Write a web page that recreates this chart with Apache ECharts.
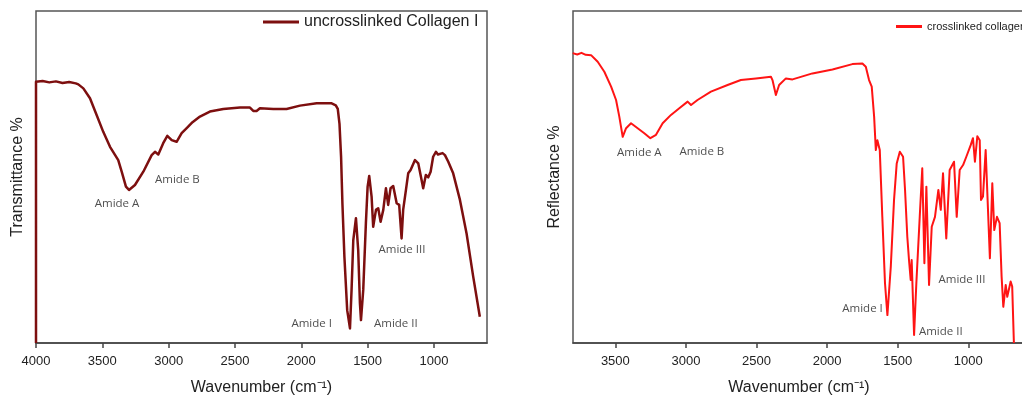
<!DOCTYPE html>
<html>
<head>
<meta charset="utf-8">
<script src="https://cdn.jsdelivr.net/npm/echarts@6/dist/echarts.min.js"></script>
<style>
  html, body { margin: 0; padding: 0; background: #fff; }
  #chart { width: 1022px; height: 401px; }
</style>
</head>
<body>
<div id="chart"></div>
<script>
// left panel: uncrosslinked collagen (wavenumber, transmittance)
var leftWn = [4000, 4000, 3950, 3900, 3850, 3800, 3750, 3700, 3681, 3643, 3593, 3543, 3493, 3442, 3380, 3354, 3322, 3299, 3254, 3191, 3128, 3103, 3078, 3041, 3010, 2977, 2940, 2902, 2864, 2820, 2764, 2689, 2588, 2462, 2387, 2362, 2337, 2312, 2211, 2111, 2010, 1884, 1771, 1740, 1725, 1712, 1700, 1690, 1675, 1654, 1633, 1621, 1608, 1588, 1571, 1558, 1550, 1533, 1513, 1500, 1488, 1470, 1458, 1437, 1420, 1402, 1382, 1362, 1345, 1327, 1307, 1281, 1262, 1244, 1232, 1211, 1194, 1176, 1143, 1118, 1098, 1081, 1061, 1043, 1025, 1006, 985, 970, 955, 935, 917, 892, 855, 804, 754, 704, 654];
var leftVal = [0, 78.7, 78.9, 78.5, 78.8, 78.3, 78.6, 78.2, 77.9, 76.7, 73.7, 68.7, 63.6, 59.1, 55.1, 51.6, 47.1, 46.1, 47.6, 51.6, 56.6, 57.6, 56.8, 60.2, 62.4, 61.1, 60.6, 63.2, 64.7, 66.5, 68.2, 69.7, 70.5, 70.9, 70.9, 69.9, 69.9, 70.7, 70.5, 70.5, 71.5, 72.2, 72.2, 71.6, 70.5, 66, 56, 42, 26, 9.9, 4.4, 16, 31, 37.6, 28, 12, 6.9, 16, 36.1, 47.1, 50.3, 44.1, 35, 40.1, 40.6, 36.5, 40.1, 46.6, 41.6, 46.6, 47.3, 42.1, 41.6, 31.5, 40.1, 46.1, 51.1, 52.1, 55.1, 54.1, 50.1, 46.6, 50.6, 49.9, 51.6, 56.1, 57.6, 56.8, 56.6, 57.2, 56.6, 54.6, 51.1, 43.1, 33, 20, 7.9];

// right panel: crosslinked collagen (wavenumber, reflectance)
var rightWn = [3802, 3770, 3740, 3710, 3672, 3625, 3578, 3530, 3495, 3472, 3448, 3424, 3389, 3342, 3295, 3252, 3212, 3165, 3106, 3047, 2988, 2964, 2918, 2823, 2705, 2611, 2504, 2398, 2387, 2363, 2340, 2292, 2245, 2104, 1962, 1821, 1750, 1726, 1703, 1684, 1667, 1655, 1644, 1627, 1609, 1590, 1573, 1549, 1526, 1507, 1485, 1462, 1448, 1432, 1420, 1408, 1401, 1384, 1368, 1344, 1326, 1311, 1297, 1278, 1259, 1236, 1212, 1195, 1179, 1156, 1132, 1101, 1082, 1061, 1037, 1014, 983, 967, 953, 936, 919, 910, 896, 877, 863, 847, 830, 816, 797, 778, 764, 752, 735, 724, 700, 689, 677];
var rightVal = [87.3, 86.9, 87.4, 86.8, 86.7, 84.7, 81.7, 77.2, 73.2, 68.2, 62.1, 64.7, 66.2, 64.7, 63.2, 61.7, 62.7, 66.2, 68.7, 70.7, 72.7, 71.7, 73.2, 75.7, 77.7, 79.2, 79.7, 80.2, 79.2, 74.7, 77.7, 79.7, 79.4, 81.2, 82.4, 84, 84.2, 83.2, 79.2, 77.2, 68.2, 58.1, 61.1, 58.1, 38, 18, 8.4, 23, 43.1, 54.1, 57.6, 56.1, 46.1, 32, 25, 19, 25, 2.4, 18, 38, 52.6, 24, 47.1, 17.5, 35, 38, 46.1, 40.1, 51.1, 31.5, 52.1, 54.6, 38, 52.1, 53.6, 56.1, 59.6, 61.7, 54.6, 62.3, 61.1, 43.1, 44.1, 58.1, 57.6, 25.5, 48.1, 34, 38, 36.1, 20, 10.9, 17.5, 13.9, 18.5, 17, 0];

var leftTicks = [4000, 3500, 3000, 2500, 2000, 1500, 1000];
var rightTicks = [3500, 3000, 2500, 2000, 1500, 1000];

// peak labels: [text, wavenumber, value]
var leftNotes = [["Amide A", 3389, 41.9], ["Amide B", 2934, 49.1], ["Amide III", 1241, 28], ["Amide I", 1922, 5.7], ["Amide II", 1287, 5.7]];
var rightNotes = [["Amide A", 3330, 57.2], ["Amide B", 2887, 57.5], ["Amide III", 1045, 19], ["Amide I", 1749, 10.2], ["Amide II", 1195, 3.3]];

var leftName = "uncrosslinked Collagen I";
var rightName = "crosslinked collagen";

function pairs(xs, ys) {
  return xs.map(function (x, i) { return [x, ys[i]]; });
}
function notes(list) {
  return list.map(function (n) { return { name: n[0], value: [n[1], n[2]] }; });
}

var chart = echarts.init(document.getElementById("chart"), null, { renderer: "canvas" });
var tickFont = { fontFamily: "Liberation Sans", fontSize: 13, color: "#222" };

function xAxis(idx, min, max, ticks, namePad) {
  return {
    gridIndex: idx,
    type: "value",
    inverse: true,
    min: min,
    max: max,
    name: "Wavenumber (cm⁻¹)",
    nameLocation: "middle",
    nameGap: 37,
    nameTextStyle: { fontFamily: "Liberation Sans", fontSize: 16, color: "#222", padding: namePad },
    axisLine: { show: true, onZero: false, lineStyle: { color: "#444", width: 1.5 } },
    axisTick: { show: true, inside: false, length: 5, customValues: ticks, lineStyle: { color: "#444", width: 1.5 } },
    axisLabel: Object.assign({
      margin: 12,
      customValues: ticks,
      formatter: function (v) { return String(v); }
    }, tickFont),
    splitLine: { show: false }
  };
}
function yAxis(idx, name) {
  return {
    gridIndex: idx,
    type: "value",
    min: 0,
    max: 100,
    name: name,
    nameLocation: "middle",
    nameGap: 10,
    nameTextStyle: { fontFamily: "Liberation Sans", fontSize: 16, color: "#222" },
    axisLine: { show: false },
    axisTick: { show: false },
    axisLabel: { show: false },
    splitLine: { show: false }
  };
}
function noteSeries(idx, list) {
  return {
    type: "scatter",
    xAxisIndex: idx,
    yAxisIndex: idx,
    symbolSize: 0,
    silent: true,
    data: notes(list),
    label: {
      show: true,
      position: "inside",
      formatter: "{b}",
      fontFamily: "Open Sans",
      fontSize: 11.5,
      color: "#222"
    }
  };
}

var option = {
  animation: false,
  backgroundColor: "#fff",
  grid: [
    { left: 36, top: 11, width: 451, bottom: 58, show: true, borderColor: "#555", borderWidth: 1.5, outerBoundsMode: "none" },
    // right box runs past the edge of the picture, as in the original
    { left: 573, top: 11, width: 480, bottom: 58, show: true, borderColor: "#555", borderWidth: 1.5, outerBoundsMode: "none" }
  ],
  legend: [
    {
      left: 258, top: 9, data: [leftName], itemWidth: 36, itemHeight: 3, icon: "rect",
      itemGap: 5,
      textStyle: { fontFamily: "Liberation Sans", fontSize: 16, color: "#222" }
    },
    {
      left: 891, top: 16, data: [rightName], itemWidth: 26, itemHeight: 3, icon: "rect",
      textStyle: { fontFamily: "Liberation Sans", fontSize: 11, color: "#222" }
    }
  ],
  xAxis: [
    xAxis(0, 600, 4000, leftTicks, [0, 0, 0, 0]),
    xAxis(1, 400, 3800, rightTicks, [0, 28, 0, 0])
  ],
  yAxis: [yAxis(0, "Transmittance %"), yAxis(1, "Reflectance %")],
  series: [
    {
      name: leftName, type: "line", xAxisIndex: 0, yAxisIndex: 0,
      showSymbol: false, symbol: "none",
      lineStyle: { color: "#7d0f0f", width: 2.5, join: "round" },
      itemStyle: { color: "#7d0f0f" },
      data: pairs(leftWn, leftVal)
    },
    {
      name: rightName, type: "line", xAxisIndex: 1, yAxisIndex: 1,
      showSymbol: false, symbol: "none",
      lineStyle: { color: "#ff1414", width: 2, join: "round" },
      itemStyle: { color: "#ff1414" },
      data: pairs(rightWn, rightVal)
    },
    noteSeries(0, leftNotes),
    noteSeries(1, rightNotes)
  ]
};
chart.setOption(option);
</script>
</body>
</html>
